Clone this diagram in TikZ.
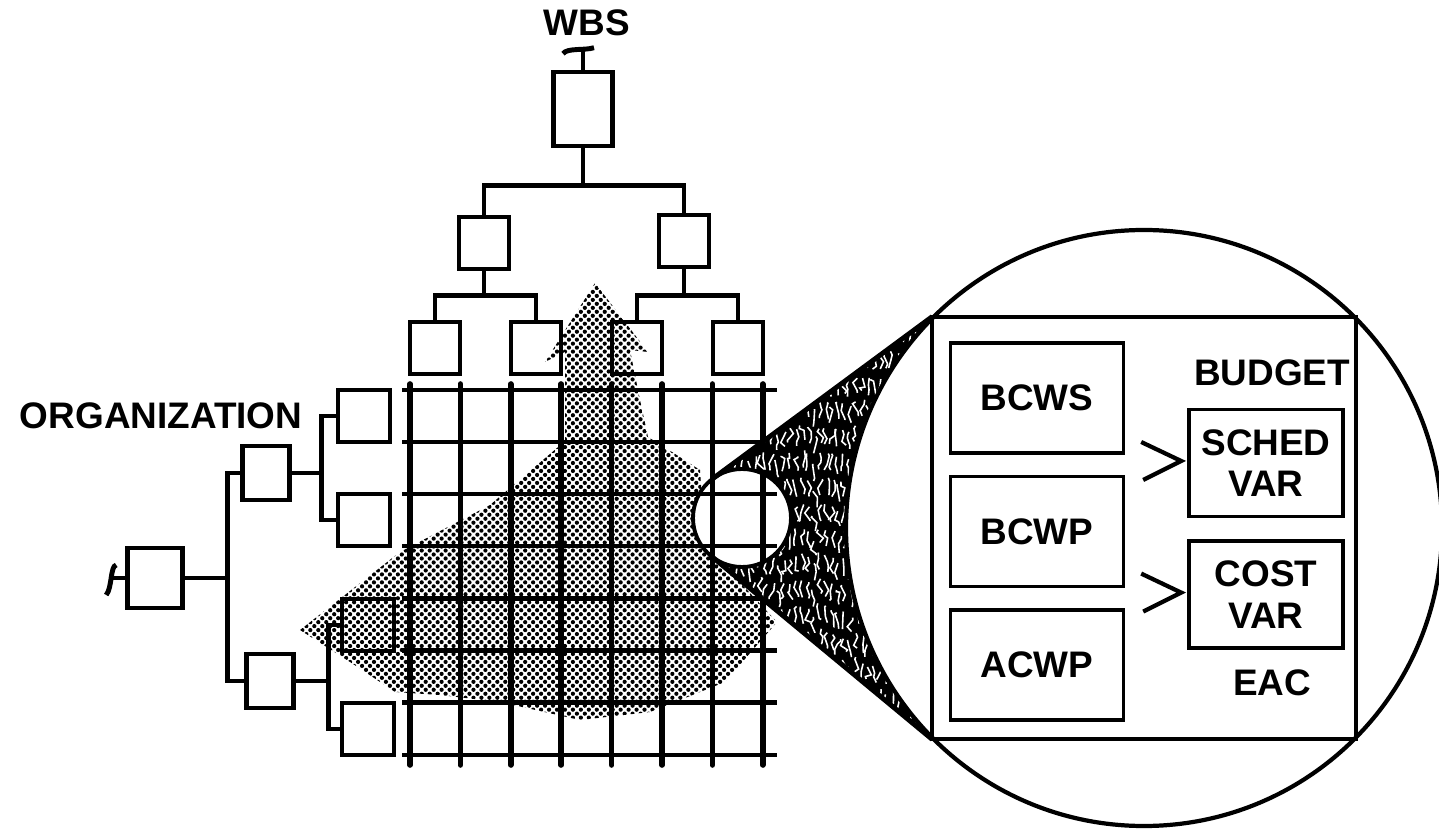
\documentclass[tikz,border=0pt]{standalone}
\usepackage{fontspec}
\setmainfont{Liberation Sans}
\usetikzlibrary{positioning,calc,patterns.meta,decorations.pathmorphing}

\tikzdeclarepattern{
  name=halftone,
  type=uncolored,
  bounding box={(-0.8pt,-0.8pt) and (0.8pt,0.8pt)},
  tile size={(1.6pt,1.6pt)},
  tile transformation={rotate=45},
  code={\fill (0pt,0pt) circle (0.6pt);}
}

\tikzset{
    box/.style={draw, line width=1.3pt, minimum width=0.5cm, minimum height=0.52cm, inner sep=0pt},
    conn/.style={line width=1.4pt},
    gridv/.style={line width=1.6pt, line cap=round},
    gridh/.style={line width=1.2pt},
    txt/.style={font=\bfseries\fontsize{10.5}{12}\selectfont, inner sep=0pt},
    cell/.style={draw, line width=1pt, minimum width=1.73cm, minimum height=1.1cm,
        font=\bfseries\fontsize{10.5}{12}\selectfont},
    var/.style={draw, line width=1pt, minimum width=1.54cm, minimum height=1.07cm,
        align=center, font=\bfseries\fontsize{10.5}{11.7}\selectfont},
    chev/.style={line width=1.2pt}
}

\newcommand{\gridlines}{%
    \foreach \i in {0,...,7}
        \draw[gridv] ({410+50.4*\i},384) -- ({410+50.4*\i},765);
    \foreach \j in {0,...,7}
        \draw[gridh] (402,{390+52.1*\j}) -- (777,{390+52.1*\j});
}

\begin{document}
\begin{tikzpicture}[x=0.01cm, y=-0.01cm]
    \useasboundingbox (0,0) rectangle (1439,837);

    % shaded area behind the matrix
    \fill[pattern=halftone, pattern color=black]
        (595,283) -- (648,352) -- (630,350) -- (640,400) -- (648,437)
        -- (672,452) -- (700,470) -- (705,545) -- (777,622) -- (725,682)
        -- (650,712) -- (580,720) -- (500,702) -- (440,695) -- (395,692)
        -- (350,662) -- (300,630) -- (400,552) -- (490,505) -- (557,448)
        -- (565,440) -- (565,352) -- (545,362) -- cycle;

    % WBS tree
    \begin{scope}
        \node[box, minimum width=0.59cm, minimum height=0.74cm] (wbs) at (583,109) {};
        \node[box] (w1) at (484,243) {};
        \node[box] (w2) at (684,241) {};
        \node[box] (w11) at (435,348) {};
        \node[box] (w12) at (536,348) {};
        \node[box] (w21) at (637,348) {};
        \node[box] (w22) at (738,348) {};
        \draw[conn] (wbs.south) -- ++(0,37) -| (w1.north);
        \draw[conn] (wbs.south) -- ++(0,37) -| (w2.north);
        \draw[conn] (w1.south) -- ++(0,24) -| (w11.north);
        \draw[conn] (w1.south) -- ++(0,24) -| (w12.north);
        \draw[conn] (w2.south) -- ++(0,26) -| (w21.north);
        \draw[conn] (w2.south) -- ++(0,26) -| (w22.north);
        \draw[conn] (wbs.north) -- ++(0,-20) coordinate (wbstop);
        \draw[conn] ($(wbstop)+(-20,4)$)
            .. controls ($(wbstop)+(-16,-2)$) and ($(wbstop)+(2,1)$) .. ($(wbstop)+(11,-2)$);
        \node[txt] (wbslbl) at (587,23) {WBS};
    \end{scope}

    % organization tree
    \begin{scope}
        \node[box, minimum width=0.55cm, minimum height=0.6cm] (org) at (155,578) {};
        \node[box, minimum width=0.47cm, minimum height=0.54cm] (o1) at (266,473) {};
        \node[box, minimum width=0.47cm, minimum height=0.54cm] (o2) at (270,681) {};
        \node[box, minimum width=0.52cm] (o11) at (364,416) {};
        \node[box, minimum width=0.52cm] (o12) at (364,520) {};
        \node[box, minimum width=0.52cm] (o21) at (368,625) {};
        \node[box, minimum width=0.52cm] (o22) at (368,729) {};
        \draw[conn] (org.east) -- ++(43,0) |- (o1.west);
        \draw[conn] (org.east) -- ++(43,0) |- (o2.west);
        \draw[conn] (o1.east) -- ++(30,0) |- (o11.west);
        \draw[conn] (o1.east) -- ++(30,0) |- (o12.west);
        \draw[conn] (o2.east) -- ++(33,0) |- (o21.west);
        \draw[conn] (o2.east) -- ++(33,0) |- (o22.west);
        \draw[conn] (org.west) -- ++(-13,0) coordinate (orgtip);
        \draw[conn] ($(orgtip)+(4,-13)$)
            .. controls ($(orgtip)+(-2,-12)$) and ($(orgtip)+(0,10)$) .. ($(orgtip)+(-6,17)$);
        \node[txt, anchor=east] (orglbl) at (303,416) {ORGANIZATION};
    \end{scope}

    \gridlines

    % magnifier
    \node[circle, minimum size=0.98cm, inner sep=0pt] (lens) at (742,518) {};
    \node[minimum width=4.22cm, minimum height=4.21cm, inner sep=0pt] (panel) at (1144,528) {};
    \coordinate (t1) at ($(lens.center)+(-126:49)$);
    \coordinate (t2) at ($(lens.center)+(129:49)$);
    \begin{scope}
        \clip (t1) -- (panel.north west) -- (panel.south west) -- (t2) -- (lens.center) -- cycle;
        \fill (690,300) rectangle (950,760);
        \pgfmathsetseed{11}
        \foreach \k in {0,...,42}
            \draw[white, line width=0.45pt, dash pattern=on 5pt off 3pt, decorate,
                decoration={random steps, segment length=2pt, amplitude=1pt}]
                ({700+6*\k},300) -- ({700+6*\k},760);
    \end{scope}
    \fill[white] (lens.center) circle (49);
    \begin{scope}
        \clip (lens.center) circle (49);
        \gridlines
    \end{scope}
    \draw[line width=1.1pt] (lens.center) circle (49);

    \filldraw[fill=white, line width=1.2pt] (1144,528) circle (298);
    \draw[line width=1.4pt] (t1) -- (panel.north west);
    \draw[line width=1.4pt] (t2) -- (panel.south west);
    \draw[line width=1.1pt] (panel.north west) rectangle (panel.south east);

    \node[cell] (bcws) at (1037,398) {BCWS};
    \node[cell, below=0.2cm of bcws] (bcwp) {BCWP};
    \node[cell, below=0.2cm of bcwp] (acwp) {ACWP};

    \node[txt] (budget) at (1272,373) {BUDGET};
    \node[var] (sched) at (1266,463) {SCHED\\VAR};
    \node[var, below=0.21cm of sched] (cost) {COST\\VAR};
    \node[txt] (eac) at (1272,683) {EAC};
    \draw[chev] ($(sched.west)+(-46,-21)$) -- ($(sched.west)+(-6,-2)$) -- ($(sched.west)+(-44,17)$);
    \draw[chev] ($(cost.west)+(-46,-21)$) -- ($(cost.west)+(-6,-2)$) -- ($(cost.west)+(-44,17)$);
\end{tikzpicture}
\end{document}
